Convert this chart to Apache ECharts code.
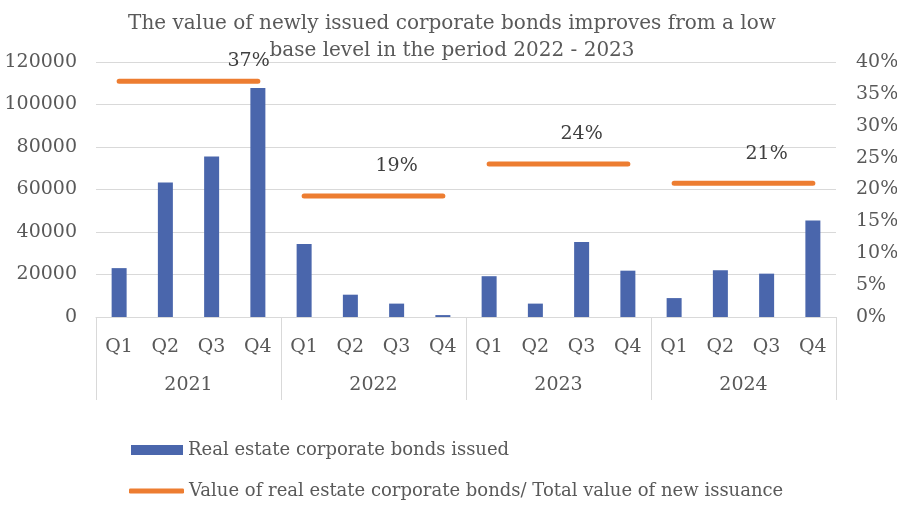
<!DOCTYPE html>
<html>
<head>
<meta charset="utf-8">
<script src="https://cdn.jsdelivr.net/npm/echarts@6/dist/echarts.min.js"></script>
<style>
  html, body { margin: 0; padding: 0; background: #ffffff; }
  #chart { width: 897px; height: 505px; }
</style>
</head>
<body>
<div id="chart"></div>
<script>
// Quarterly real estate corporate bond issuance and its share of total new issuance
const quarters = ['Q1', 'Q2', 'Q3', 'Q4'];
const years = ['2021', '2022', '2023', '2024'];
const bondsIssued = [
  23000, 63300, 75500, 107800,
  34400, 10500, 6300, 900,
  19200, 6300, 35300, 21800,
  8900, 22000, 20400, 45400
];
const shareOfTotal = [0.37, 0.19, 0.24, 0.21];
const leftTicks = { min: 0, max: 120000, interval: 20000 };
const rightTicks = { min: 0, max: 0.4, interval: 0.05 };

const barName = 'Real estate corporate bonds issued';
const lineName = 'Value of real estate corporate bonds/ Total value of new issuance';

const FONT = 'DejaVu Serif';
const TEXT = '#595959';
const GRID = '#d9d9d9';
const BLUE = '#4a66ac';
const ORANGE = '#ed7d31';

const categories = [];
years.forEach(y => quarters.forEach(q => categories.push(q)));

// one flat segment per year, label placed on the third quarter
const labelOffsets = [[37, 11], [0, 20], [0, 20], [0, 20]];
const lineSeries = years.map((y, yi) => {
  const data = categories.map(() => null);
  quarters.forEach((q, qi) => {
    const idx = yi * quarters.length + qi;
    data[idx] = qi === 2 ? {
      value: shareOfTotal[yi],
      label: {
        show: true,
        position: 'top',
        distance: labelOffsets[yi][1],
        offset: [labelOffsets[yi][0], 0]
      }
    } : shareOfTotal[yi];
  });
  return {
    name: lineName,
    type: 'line',
    yAxisIndex: 1,
    data: data,
    symbol: 'circle',
    symbolSize: 0.1,
    showSymbol: true,
    connectNulls: false,
    silent: true,
    lineStyle: { color: ORANGE, width: 5, cap: 'round' },
    itemStyle: { color: ORANGE },
    label: {
      fontFamily: FONT, fontSize: 19, color: '#404040',
      formatter: p => Math.round(p.value * 100) + '%'
    },
    z: 3
  };
});

const legendText = { fontFamily: FONT, fontSize: 18, color: TEXT };

const chart = echarts.init(document.getElementById('chart'));
chart.setOption({
  animation: false,
  backgroundColor: '#ffffff',
  title: {
    text: 'The value of newly issued corporate bonds improves from a low\nbase level in the period 2022 - 2023',
    left: 447,
    top: 5,
    textAlign: 'center',
    textStyle: { fontFamily: FONT, fontSize: 20, lineHeight: 27, fontWeight: 'normal', color: TEXT }
  },
  legend: [
    {
      left: 131, top: 441, padding: 0,
      itemWidth: 52, itemHeight: 10,
      textStyle: legendText,
      data: [{ name: barName, icon: 'rect', itemStyle: { color: BLUE } }]
    },
    {
      left: 129, top: 482, padding: 0,
      itemWidth: 55, itemHeight: 5,
      textStyle: legendText,
      data: [{ name: lineName, icon: 'roundRect', itemStyle: { color: ORANGE } }]
    }
  ],
  grid: { left: 96, right: 61, top: 62, bottom: 188, containLabel: false, outerBoundsMode: 'none' },
  xAxis: [
    {
      type: 'category',
      data: categories,
      position: 'bottom',
      axisLine: { show: true, lineStyle: { color: GRID, width: 1 } },
      axisTick: { show: false },
      axisLabel: { fontFamily: FONT, fontSize: 19, color: TEXT, margin: 21, interval: 0 }
    },
    {
      type: 'category',
      data: years,
      position: 'bottom',
      axisLine: { show: false },
      axisTick: { show: true, length: 83, lineStyle: { color: GRID, width: 1 } },
      axisLabel: { fontFamily: FONT, fontSize: 19, color: TEXT, margin: 59 }
    }
  ],
  yAxis: [
    {
      type: 'value',
      min: leftTicks.min, max: leftTicks.max, interval: leftTicks.interval,
      axisLine: { show: false },
      axisTick: { show: false },
      splitLine: { lineStyle: { color: GRID, width: 1 } },
      axisLabel: { fontFamily: FONT, fontSize: 19, color: TEXT, margin: 19, formatter: v => String(v) }
    },
    {
      type: 'value',
      min: rightTicks.min, max: rightTicks.max, interval: rightTicks.interval,
      position: 'right',
      axisLine: { show: false },
      axisTick: { show: false },
      splitLine: { show: false },
      axisLabel: {
        fontFamily: FONT, fontSize: 19, color: TEXT, margin: 20,
        formatter: v => Math.round(v * 100) + '%'
      }
    }
  ],
  series: [
    {
      name: barName,
      type: 'bar',
      data: bondsIssued,
      barWidth: 15,
      itemStyle: { color: BLUE },
      silent: true,
      z: 2
    }
  ].concat(lineSeries)
});
</script>
</body>
</html>
